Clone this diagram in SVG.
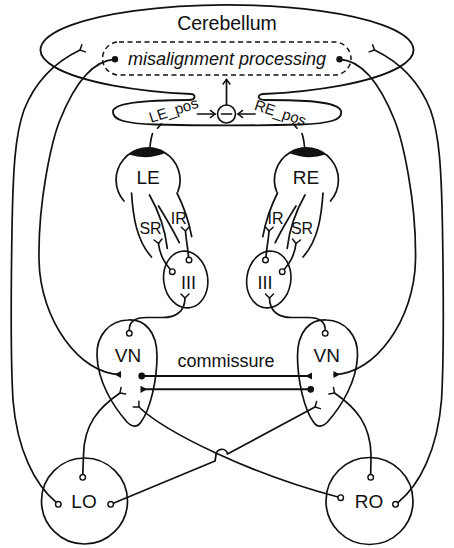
<svg xmlns="http://www.w3.org/2000/svg" width="454" height="548" viewBox="0 0 454 548">
<style>
.s{fill:none;stroke:#111;stroke-width:1.7;stroke-linecap:round;stroke-linejoin:round}
.c{fill:none;stroke:#111;stroke-width:1.8}
.o{fill:#fff;stroke:#111;stroke-width:1.4}
.d{fill:#111;stroke:none}
.k{fill:none;stroke:#111;stroke-width:2}
text{font-family:"Liberation Sans",Arial,Helvetica,sans-serif;fill:#111;text-anchor:middle}
.t19{font-size:19px}
.t18{font-size:18px}
.t15{font-size:16px}
.lab{font-size:15px;text-anchor:start}
</style>
<defs>
<marker id="y" viewBox="-6 -6 12 12" markerWidth="12" markerHeight="12" markerUnits="userSpaceOnUse" orient="auto"><path d="M0,0 L4,-4 M0,0 L4,4" fill="none" stroke="#111" stroke-width="1.5" stroke-linecap="round"/></marker>
<marker id="tri" viewBox="-8 -5 10 10" markerWidth="10" markerHeight="10" markerUnits="userSpaceOnUse" orient="auto"><path d="M0.5,-3.6 L0.5,3.6 L-6,0 Z" fill="#111"/></marker>
<marker id="chev" viewBox="-7 -5 9 10" markerWidth="9" markerHeight="10" markerUnits="userSpaceOnUse" orient="auto"><path d="M-5,-3.8 L0,0 L-5,3.8" fill="none" stroke="#111" stroke-width="1.5"/></marker>
</defs>

<g id="cerebellum">
<path class="c" d="M191,94 A186.5 45 0 1 1 263,94 C257,94.5 257,100 265,100 C300,100 338,101 341,111 C343,120 330,123.5 300,124.5 C260,125.5 195,125.5 155,124.5 C125,123.5 112,120 113,111 C115,102 150,100 189,100 C196,100 196,94 191,94 Z"/>
<text class="t19" x="227" y="30" style="font-size:19.5px">Cerebellum</text>
</g>

<g id="misalignment">
<rect x="102.5" y="42" width="248.5" height="33" rx="16.5" fill="none" stroke="#111" stroke-width="1.5" stroke-dasharray="5 3.5"/>
<text class="t18" x="227" y="65" font-style="italic">misalignment processing</text>
<circle class="d" cx="115" cy="59.3" r="3.2"/>
<circle class="d" cx="339.5" cy="59.3" r="3.2"/>
</g>

<g id="comparator">
<circle cx="226.5" cy="114" r="9" fill="none" stroke="#111" stroke-width="1.6"/>
<line class="s" x1="221.5" y1="114" x2="231.5" y2="114"/>
</g>

<g id="LE">
<path class="s" d="M124,201 A32 32 0 1 1 177.8,191.8"/>
<path class="d" d="M129,154.5 A32 32 0 0 1 165.5,153 Q147,160.5 129,154.5 Z"/>
<path class="s" d="M131.5,193 C133,215 136,240 151.5,257"/>
<path class="s" d="M149.5,195 C158,210 165,228 167.3,248.3"/>
<path class="s" d="M158.5,206 C166,218 173,230 179.3,242.7"/>
<path class="s" d="M177,193 C184,207 189,222 191.7,236.7"/>
<text class="t19" x="148" y="183.5">LE</text>
<text class="t15" x="150.5" y="233.5">SR</text>
<text class="t15" x="178.7" y="223.5">IR</text>
</g>

<g id="RE">
<g transform="matrix(-1 0 0 1 454.5 0)">
<path class="s" d="M124,201 A32 32 0 1 1 177.8,191.8"/>
<path class="d" d="M129,154.5 A32 32 0 0 1 165.5,153 Q147,160.5 129,154.5 Z"/>
<path class="s" d="M131.5,193 C133,215 136,240 151.5,257"/>
<path class="s" d="M149.5,195 C158,210 165,228 167.3,248.3"/>
<path class="s" d="M158.5,206 C166,218 173,230 179.3,242.7"/>
<path class="s" d="M177,193 C184,207 189,222 191.7,236.7"/>
</g>
<text class="t19" x="306" y="183.5">RE</text>
<text class="t15" x="275.5" y="223.5">IR</text>
<text class="t15" x="302" y="233.5">SR</text>
</g>

<g id="III-L">
<ellipse cx="185.7" cy="279.5" rx="22" ry="28.5" transform="rotate(-8 185.7 279.5)" fill="none" stroke="#111" stroke-width="1.6"/>
<text class="t18" x="188.5" y="289">III</text>
</g>

<g id="III-R">
<ellipse cx="268.8" cy="279.5" rx="22" ry="28.5" transform="rotate(8 268.8 279.5)" fill="none" stroke="#111" stroke-width="1.6"/>
<text class="t18" x="265" y="289">III</text>
</g>

<g id="VN-L">
<path class="s" d="M128,320 C145,319 157,332 157,356 C157,381 150,410 141,422 C137,428 132,427 127,422 C112,405 98,381 97,356 C96,335 110,320.5 128,320 Z"/>
<text class="t19" x="128" y="362">VN</text>
</g>

<g id="VN-R">
<path class="s" d="M326.5,320 C309.5,319 297.5,332 297.5,356 C297.5,381 304.5,410 313.5,422 C317.5,428 322.5,427 327.5,422 C342.5,405 356.5,381 357.5,356 C358.5,335 344.5,320.5 326.5,320 Z"/>
<text class="t19" x="326.7" y="362">VN</text>
</g>

<g id="LO">
<circle cx="84.5" cy="501" r="43" fill="none" stroke="#111" stroke-width="1.7"/>
<text class="t19" x="84" y="508">LO</text>
</g>

<g id="RO">
<circle cx="369.5" cy="501" r="43.5" fill="none" stroke="#111" stroke-width="1.7"/>
<text class="t19" x="369" y="508">RO</text>
</g>

<g id="connectors">
<line class="s" x1="226.5" y1="105" x2="226.5" y2="79.5" marker-end="url(#chev)"/>
<line class="s" x1="197.5" y1="114" x2="215" y2="114" marker-end="url(#chev)"/>
<line class="s" x1="255" y1="114" x2="238" y2="114" marker-end="url(#chev)"/>
<text class="lab" transform="translate(151 123) rotate(-18)">LE_pos</text>
<text class="lab" transform="translate(253.5 109.5) rotate(18)">RE_pos</text>
<path class="s" d="M150,146.5 C150.5,142 151,138 152.5,133.5 M157.5,128.2 L161.5,123.8"/>
<path class="s" d="M304.5,146.5 C304,142 303.5,138 302,133.5 M297,128.2 L293,123.8"/>

<path class="s" d="M56.3,502.4 C35,485 17,450 13,400 C10,350 11,290 12,230 C13,170 15,135 24,110 C35,82 55,62 80,50" marker-end="url(#y)"/>
<path class="s" d="M398.2,502.4 C419.5,485 437.5,450 441.5,400 C444.5,350 443.5,290 442.5,230 C441.5,170 439.5,135 430.5,110 C419.5,82 399.5,62 374.5,50" marker-end="url(#y)"/>

<path class="s" d="M115,59.3 C97,60 78,75 60,120 C52,140 38,200 39,260 C40,320 80,374.5 120.5,374.5" marker-end="url(#tri)"/>
<path class="s" d="M339.5,59.3 C357.5,60 376.5,75 394.5,120 C402.5,140 416.5,200 415.5,260 C414.5,320 374.5,374.5 334,374.5" marker-end="url(#tri)"/>

<text class="t18" x="226" y="367">commissure</text>
<line class="k" x1="141.7" y1="376" x2="311.5" y2="376" marker-end="url(#tri)"/>
<line class="k" x1="310.7" y1="389.3" x2="141" y2="389.3" marker-end="url(#tri)"/>
<circle class="d" cx="141.7" cy="376" r="3.4"/>
<circle class="d" cx="310.7" cy="389.3" r="3.4"/>

<path class="s" d="M129.3,330.5 C129,322 134,317.5 147,317.5 L163,317.5 C175,317.5 185,312 185,298" marker-end="url(#y)"/>
<path class="s" d="M325.2,330.5 C325.5,322 320.5,317.5 307.5,317.5 L291.5,317.5 C279.5,317.5 269.5,312 269.5,298" marker-end="url(#y)"/>

<path class="s" d="M170.5,269.8 C165,263 160,256 158.5,243.5" marker-end="url(#y)"/>
<path class="s" d="M188.5,257.3 C188,248 186,240 185.5,231" marker-end="url(#y)"/>
<path class="s" d="M284,269.8 C289.5,263 294.5,256 296,243.5" marker-end="url(#y)"/>
<path class="s" d="M266,257.3 C266.5,248 268.5,240 269,231" marker-end="url(#y)"/>

<path class="s" d="M82.8,474.5 L83.5,455 C84,425 98,408 120,393" marker-end="url(#y)"/>
<path class="s" d="M370.7,474.5 L371,455 C370.5,425 356.5,408 334.5,393" marker-end="url(#y)"/>
<path class="s" d="M338,497 C250,474 165,432 139,407" marker-end="url(#y)"/>
<path class="s" d="M113.3,503.2 L215,461 L216,455 A5.8 5.8 0 0 1 227.5,454 L315,407" marker-end="url(#y)"/>

<circle class="o" cx="172.3" cy="271.7" r="2.8"/>
<circle class="o" cx="189" cy="260" r="2.8"/>
<circle class="o" cx="282.2" cy="271.7" r="2.8"/>
<circle class="o" cx="265.5" cy="260" r="2.8"/>
<circle class="o" cx="129.3" cy="333.3" r="2.8"/>
<circle class="o" cx="325.2" cy="333.3" r="2.8"/>
<circle class="o" cx="82.7" cy="477.3" r="2.8"/>
<circle class="o" cx="58.3" cy="504.3" r="2.8"/>
<circle class="o" cx="110.7" cy="504.3" r="2.8"/>
<circle class="o" cx="370.7" cy="477.3" r="2.8"/>
<circle class="o" cx="340.7" cy="497.7" r="2.8"/>
<circle class="o" cx="395.5" cy="504.3" r="2.8"/>
</g>
</svg>
